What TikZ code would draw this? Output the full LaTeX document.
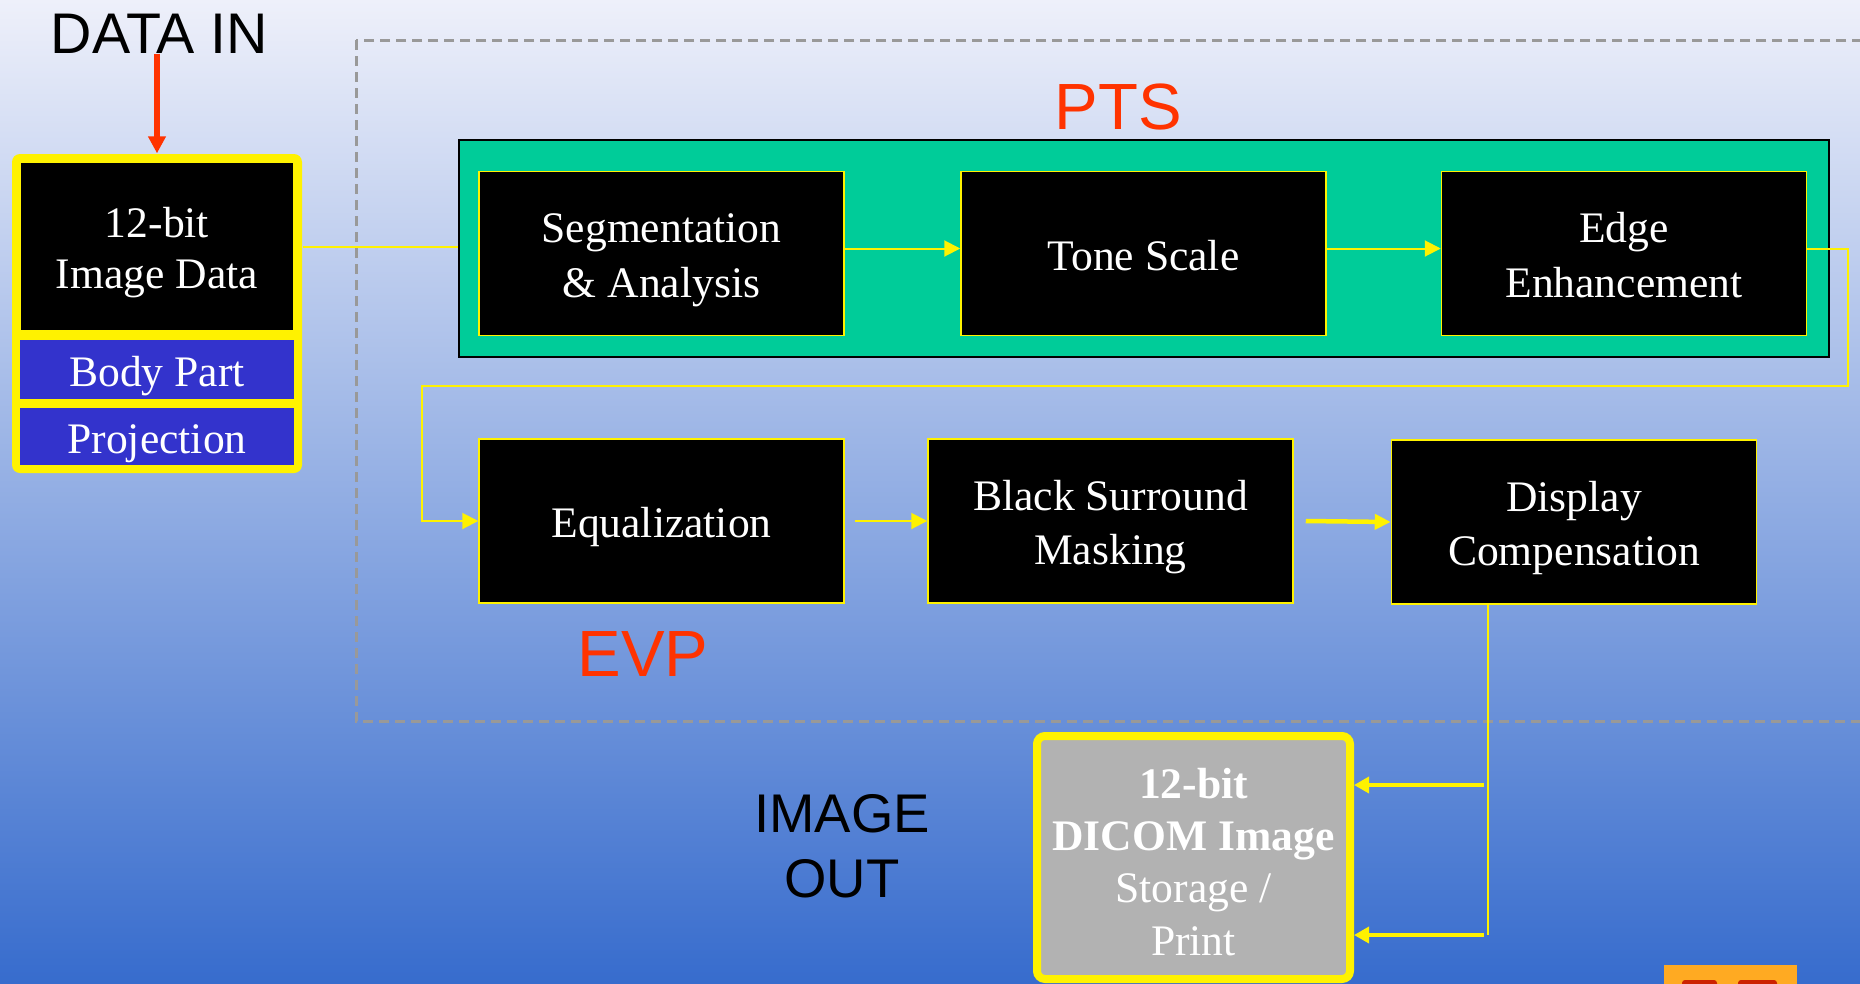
\documentclass[tikz,border=0pt]{standalone}
\usepackage{fontspec}
\setmainfont{Liberation Serif}
\newfontfamily\labelfont{Liberation Sans}
\usetikzlibrary{arrows.meta}

\definecolor{bgtop}{RGB}{238,240,250}
\definecolor{bgmid}{RGB}{160,178,226}
\definecolor{bgbot}{RGB}{55,108,205}
\definecolor{ptsgreen}{RGB}{0,204,153}
\definecolor{tagblue}{RGB}{51,51,204}
\definecolor{storegray}{RGB}{178,178,178}
\definecolor{evpred}{RGB}{255,51,0}
\definecolor{logoorange}{RGB}{255,170,34}
\definecolor{logored}{RGB}{204,34,0}

\begin{document}
\begin{tikzpicture}[
  x=0.1mm, y=-0.1mm,
  box/.style={draw=yellow, line width=0.15mm, fill=black, text=white, minimum width=36.5mm, minimum height=16.4mm, inner sep=0pt, align=center, text height=4.4mm, text depth=1.1mm, font=\fontsize{12.4}{15.4}\selectfont},
  twoline/.style={text height=9.8mm},
  tag/.style={fill=tagblue, text=white, minimum width=27.4mm, inner sep=0pt, text height=4.2mm, text depth=0.9mm, font=\fontsize{12.4}{15}\selectfont},
  title/.style={inner sep=0pt, text=evpred, font=\labelfont\fontsize{18.6}{20}\selectfont},
  note/.style={inner sep=0pt, align=center, font=\labelfont\fontsize{15.5}{18.5}\selectfont},
  group/.style={draw=black!40, line width=0.3mm, dash pattern=on 1mm off 0.6mm},
  wire/.style={draw=yellow, line width=0.2mm},
  line/.style={wire, -{Triangle[length=1.6mm,width=1.6mm]}},
  fat/.style={draw=yellow, line width=0.45mm, -{Triangle[length=1.6mm,width=1.5mm]}},
  mid/.style={draw=yellow, line width=0.35mm, -{Triangle[length=1.5mm,width=1.6mm]}}
]
\useasboundingbox (0,0) rectangle (1860,983);
\shade[top color=bgtop, middle color=bgmid, bottom color=bgbot] (0,0) rectangle (1860,983);
\draw[group] (356,40) rectangle (1900,721);

% input side
\node[note, anchor=base, font=\labelfont\fontsize{16.3}{18.5}\selectfont] (datain) at (159.5,53) {DATA IN};
\node[fill=yellow, rounded corners=0.8mm, minimum width=29mm, minimum height=31.9mm] (input) at (157,313.5) {};
\node[box, minimum width=27.4mm, minimum height=16.9mm, text height=9.4mm, font=\fontsize{12.4}{14.5}\selectfont] (imgdata) at (157,246.5) {12-bit\\Image Data};
\node[tag, minimum height=5.9mm] (body) at (157,369.5) {Body Part};
\node[tag, minimum height=5.7mm] (proj) at (157,436.5) {Projection};
\draw[draw=evpred, line width=0.6mm, -{Triangle[length=1.7mm,width=1.7mm]}] (datain.south -| input.north) -- (input.north);

% PTS
\node[draw=black, line width=0.2mm, fill=ptsgreen, minimum width=137mm, minimum height=21.7mm] (pts) at (1144,248.5) {};
\node[title, anchor=base] (ptslabel) at (1118.5,129) {PTS};
\node[box, twoline] (seg) at (661.5,253.5) {Segmentation\\\& Analysis};
\node[box] (tone) at (1143.5,253.5) {Tone Scale};
\node[box, twoline] (edge) at (1624,253.5) {Edge\\Enhancement};

% EVP
\node[box] (eq) at (661.5,521) {Equalization};
\node[box, twoline] (mask) at (1110.5,521) {Black Surround\\Masking};
\node[box, twoline] (disp) at (1574,522) {Display\\Compensation};
\node[title, anchor=base] (evplabel) at (643,676) {EVP};

% output
\node[note] (out) at (842,846) {IMAGE\\OUT};
\node[draw=yellow, line width=0.8mm, fill=storegray, rounded corners=0.8mm, minimum width=31.3mm, minimum height=24.3mm, inner sep=0pt, align=center, text=white, text height=21mm, text depth=1.5mm, font=\fontsize{12.4}{14.8}\selectfont] (dicom) at (1193.5,857.5) {\textbf{12-bit}\\\textbf{DICOM Image}\\Storage /\\Print};

\coordinate (turn) at (1848,386);
\coordinate (back) at (422,386);
\coordinate (tap) at (1488,935);
\coordinate (hi) at (1484,785);
\coordinate (lo) at (1484,935);

\draw[wire] (imgdata.east -| input.east) -- (imgdata.east -| pts.west);
\draw[line] (seg.east |- pts) -- (tone.west |- pts);
\draw[line] (tone.east |- pts) -- (edge.west |- pts);
\draw[line] (edge.east |- pts) -| (turn) -- (back) |- (eq.west);
\draw[line] ([xshift=1mm]eq.east) -- (mask.west);
\draw[fat] ([xshift=1.2mm]mask.east) -- (disp.west);
\draw[wire] (disp.south -| tap) -- (tap);
\draw[mid] (hi) -- (hi -| dicom.east);
\draw[mid] (lo) -- (lo -| dicom.east);

% logo corner
\fill[logoorange] (1664,965) rectangle (1797,990);
\fill[logored, rounded corners=0.3mm] (1682,980) rectangle (1717,995);
\fill[logored, rounded corners=0.3mm] (1738,980) rectangle (1777,995);
\end{tikzpicture}
\end{document}
